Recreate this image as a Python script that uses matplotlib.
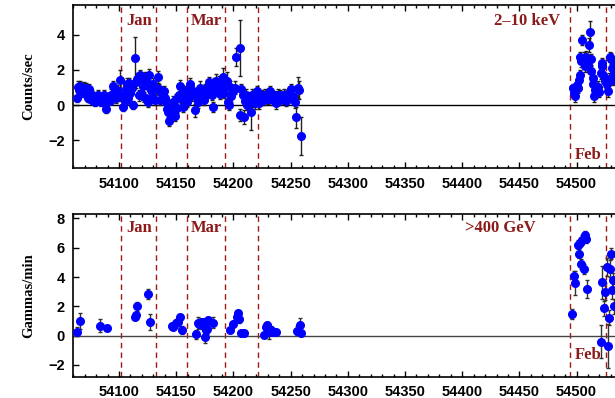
import matplotlib
matplotlib.use("Agg")
import matplotlib.pyplot as plt
from matplotlib.ticker import MultipleLocator

# X-ray rate (2-10 keV), season 2006/07
xr_mjd = [54063, 54064, 54065, 54066, 54067, 54068, 54069, 54070, 54071, 54072,
          54073, 54074, 54075, 54076, 54077, 54078, 54079, 54080, 54081, 54082,
          54083, 54084, 54085, 54086, 54087, 54088, 54089, 54090, 54091, 54092,
          54093, 54094, 54095, 54096, 54097, 54098, 54099, 54100.6, 54101, 54103.5,
          54104, 54105, 54106, 54107, 54108, 54109, 54110, 54111, 54112, 54114.3,
          54115, 54116, 54117, 54118, 54119, 54120, 54121, 54122, 54123, 54124,
          54125, 54126, 54127, 54128, 54129, 54130, 54131, 54132, 54134, 54135,
          54136, 54137, 54138, 54139, 54140, 54141, 54142, 54143, 54144, 54145,
          54146, 54147, 54148, 54149, 54150, 54151, 54152, 54153, 54154, 54155,
          54156, 54157, 54158, 54159, 54160, 54161, 54162, 54163, 54164, 54166,
          54167, 54168, 54169, 54170, 54171, 54172, 54173, 54174, 54175, 54176,
          54177, 54178, 54179, 54180, 54181, 54182, 54183, 54184, 54185, 54186,
          54187, 54188, 54189, 54190, 54191, 54192, 54194, 54195, 54196, 54197,
          54198, 54200, 54201, 54202.6, 54205.5, 54205.8, 54207, 54208, 54209.3, 54210,
          54211, 54212, 54213, 54215, 54216, 54217, 54218, 54219, 54220, 54221,
          54222, 54223, 54224, 54225, 54226, 54227, 54228, 54229, 54230, 54231,
          54232, 54233, 54234, 54235, 54236, 54237, 54238, 54239, 54240, 54241,
          54242, 54243, 54244, 54245, 54246, 54247, 54248, 54249, 54250, 54252,
          54254, 54254.6, 54256.6, 54257, 54258.7,
          # Feb 2008
          54496.9, 54497.5, 54498.4, 54500, 54501, 54502.2, 54502.8, 54503, 54504, 54505.1,
          54506.5, 54507.5, 54508, 54508.6, 54510, 54510.9, 54511.5, 54512.3, 54512.9, 54514,
          54514.8, 54515.2, 54515.8, 54517.5, 54518.5, 54519.5, 54521, 54521.8, 54522.5, 54523.5,
          54524.5, 54525.5, 54526.3, 54527.4, 54528, 54528.9, 54530, 54531.2, 54531.8, 54532.5,
          54533]
xr_rate = [0.40, 1.05, 0.85, 1.10, 0.95, 0.70, 1.00, 0.80, 0.95, 0.55,
           0.40, 0.90, 0.35, 0.60, 0.25, 0.45, 0.15, 0.50, 0.30, 0.55,
           0.40, 0.20, 0.45, 0.35, 0.55, 0.10, -0.20, 0.30, 0.45, 0.25,
           0.60, 0.50, 1.10, 0.70, 0.40, 0.85, 0.65, 1.45, 0.55, -0.10,
           0.55, 0.25, 0.90, 1.20, 0.40, 1.25, 0.70, 0.95, 0.00, 2.70,
           1.30, 1.50, 0.55, 1.70, 0.65, 1.40, 1.10, 0.45, 1.60, 1.30,
           0.20, 1.70, 1.00, 0.85, 0.50, 1.20, 0.30, 0.95, 1.60, 0.90,
           0.30, 0.75, 0.55, 0.80, 0.40, 0.20, -0.20, -0.40, -0.90, -0.55,
           -0.30, 0.20, -0.45, -0.60, 0.35, -0.15, 0.60, 1.10, 0.40, 0.65,
           -0.10, 0.30, 0.80, 0.20, 0.70, 0.45, 1.20, 0.90, 0.55, -0.30,
           0.60, 0.40, 0.15, 0.80, 1.00, 0.50, 0.70, 0.30, 0.90, 0.60,
           0.95, 1.00, 1.30, 0.75, 0.60, -0.10, 1.20, 0.85, 1.40, 1.00,
           1.30, 0.65, 1.15, 0.90, 1.60, 0.70, 1.40, 0.20, 0.00, 1.05,
           0.50, 0.80, 1.00, 2.75, 3.25, -0.55, 0.90, 0.55, -0.70, 0.25,
           0.60, 0.00, 0.45, -0.40, 0.60, 0.20, 0.40, 0.10, 0.55, 0.80,
           0.10, 0.50, 0.35, 0.55, 0.40, 0.30, 0.60, 0.45, 0.35, 0.70,
           0.80, 0.55, 0.40, 0.30, 0.50, 0.10, 0.40, 0.60, 0.30, 0.55,
           0.45, 0.35, 0.60, 0.50, 0.25, 0.55, 0.40, 0.70, 0.90, 0.50,
           0.20, -0.70, 1.00, 0.85, -1.75,
           0.97, 0.70, 0.50, 1.15, 1.00, 1.44, 2.73, 1.70, 2.50, 3.72,
           2.70, 2.20, 2.40, 2.73, 2.30, 3.43, 4.19, 2.60, 1.92, 1.55,
           1.20, 0.50, 0.87, 0.95, 1.05, 0.75, 1.80, 2.40, 2.20, 1.73,
           1.35, 1.30, 1.20, 0.78, 1.50, 2.73, 2.65, 2.10, 1.45, 2.35,
           1.80]
xr_err = [0.20, 0.30, 0.25, 0.25, 0.30, 0.25, 0.30, 0.25, 0.30, 0.25,
          0.20, 0.30, 0.20, 0.25, 0.20, 0.25, 0.20, 0.25, 0.20, 0.30,
          0.20, 0.25, 0.20, 0.25, 0.30, 0.20, 0.25, 0.30, 0.25, 0.20,
          0.30, 0.25, 0.30, 0.25, 0.30, 0.30, 0.30, 0.55, 0.30, 0.25,
          0.30, 0.25, 0.30, 0.35, 0.30, 0.30, 0.30, 0.30, 0.25, 1.20,
          0.30, 0.35, 0.30, 0.30, 0.30, 0.35, 0.30, 0.30, 0.30, 0.30,
          0.30, 0.35, 0.30, 0.30, 0.30, 0.35, 0.30, 0.30, 0.35, 0.30,
          0.30, 0.30, 0.30, 0.30, 0.30, 0.30, 0.30, 0.30, 0.30, 0.30,
          0.30, 0.30, 0.30, 0.30, 0.30, 0.30, 0.30, 0.35, 0.30, 0.30,
          0.30, 0.35, 0.30, 0.30, 0.35, 0.30, 0.35, 0.30, 0.30, 0.35,
          0.30, 0.30, 0.30, 0.30, 0.35, 0.30, 0.30, 0.30, 0.30, 0.30,
          0.30, 0.30, 0.30, 0.30, 0.30, 0.30, 0.35, 0.30, 0.35, 0.30,
          0.35, 0.30, 0.30, 0.30, 0.50, 0.30, 0.50, 0.35, 0.30, 0.30,
          0.30, 0.30, 0.35, 0.50, 1.60, 0.35, 0.30, 0.30, 0.40, 0.30,
          0.30, 0.30, 0.30, 1.00, 0.30, 0.30, 0.30, 0.30, 0.30, 0.30,
          0.35, 0.30, 0.30, 0.30, 0.30, 0.30, 0.30, 0.30, 0.30, 0.30,
          0.30, 0.30, 0.30, 0.30, 0.30, 0.30, 0.30, 0.30, 0.30, 0.30,
          0.30, 0.30, 0.30, 0.30, 0.30, 0.30, 0.30, 0.30, 0.30, 0.35,
          0.35, 0.60, 0.60, 0.50, 1.10,
          0.25, 0.25, 0.30, 0.30, 0.30, 0.30, 0.30, 0.30, 0.35, 0.30,
          0.30, 0.30, 0.30, 0.35, 0.35, 0.40, 0.60, 0.30, 0.30, 0.30,
          0.30, 0.30, 0.30, 0.30, 0.30, 0.30, 0.30, 0.30, 0.30, 0.30,
          0.30, 0.30, 0.30, 0.30, 0.30, 0.30, 0.30, 0.30, 0.30, 0.30,
          0.30]

# VHE gamma rate (>400 GeV)
g_mjd = [54063.2, 54066, 54083.7, 54089.5, 54113.7, 54115, 54115.8, 54125.5, 54126.7,
         54146, 54147.4, 54149.5, 54151.2, 54153, 54154.8,
         54167, 54168.7, 54170, 54171.4, 54172.3, 54173.5, 54174.9, 54175.8, 54177, 54178.1, 54182.5,
         54196.8, 54199.7, 54203, 54204.1, 54205.3, 54206.7, 54208.8,
         54226.8, 54228.3, 54229.7, 54231.2, 54232.6, 54235, 54237,
         54256, 54258, 54259.5,
         54496.3, 54497.5, 54498.3, 54501.6, 54502.2, 54503.3, 54504.2, 54505.1, 54506.3,
         54507.4, 54508.6, 54509.5, 54521.1, 54522.3, 54524.1, 54525.2, 54526.7, 54527.6,
         54528.4, 54529.6, 54530.5, 54531.4, 54532, 54532.9]
g_rate = [0.27, 1.00, 0.68, 0.50, 1.30, 1.42, 2.00, 2.83, 0.96,
          0.68, 0.62, 0.85, 0.96, 1.26, 0.39,
          0.10, 0.85, 0.80, 0.96, 0.73, 0.96, -0.07, 0.39, 0.43, 1.07, 0.89,
          0.39, 0.80, 1.30, 1.58, 1.12, 0.16, 0.20,
          0.05, 0.62, 0.71, 0.27, 0.39, 0.27, 0.27,
          0.34, 0.73, 0.16,
          1.46, 4.04, 3.58, 6.20, 5.60, 6.32, 4.90, 6.55, 4.54,
          6.90, 6.60, 3.20, -0.40, 3.63, 1.87, 3.00, 4.70, -0.68,
          1.23, 4.57, 5.60, 3.10, 3.80, 2.00]
g_err = [0.30, 0.57, 0.45, 0.10, 0.20, 0.20, 0.30, 0.35, 0.55,
         0.15, 0.15, 0.30, 0.30, 0.12, 0.30,
         0.30, 0.40, 0.25, 0.20, 0.25, 0.20, 0.40, 0.30, 0.30, 0.20, 0.40,
         0.15, 0.20, 0.20, 0.15, 0.25, 0.15, 0.15,
         0.15, 0.20, 0.20, 0.50, 0.25, 0.15, 0.15,
         0.30, 0.45, 0.20,
         0.35, 0.40, 0.80, 0.30, 0.30, 0.30, 0.35, 0.30, 0.35,
         0.25, 0.30, 0.60, 1.10, 1.10, 0.50, 0.60, 0.60, 1.50,
         0.50, 0.60, 0.40, 0.60, 0.50, 0.50]

# boundaries of the observing windows
x_lines = [54102, 54132.7, 54159.8, 54193, 54221.7, 54494.6, 54525.6]

line_red = "#a01818"
text_red = "#8b1a1a"
serif = ["Liberation Serif", "DejaVu Serif"]
sans = ["Liberation Sans", "DejaVu Sans"]

fig = plt.figure(figsize=(6.15, 3.98), dpi=100)
# the axes run past the right edge of the figure, as in the original cut
ax1 = fig.add_axes([0.1192, 0.5771, 0.902, 0.4103])
ax2 = fig.add_axes([0.1192, 0.0535, 0.902, 0.4088])


def style_axis(ax, ylim, yticks, ylabel):
    ax.set_xlim(54060, 54545)
    ax.set_ylim(*ylim)
    ax.set_yticks(yticks)
    ax.xaxis.set_major_locator(MultipleLocator(50))
    ax.xaxis.set_minor_locator(MultipleLocator(10))
    ax.tick_params(which="both", direction="in", top=True, right=True, width=1)
    ax.tick_params(which="major", length=4, pad=6)
    ax.tick_params(which="minor", length=2)
    for lab in ax.get_xticklabels() + ax.get_yticklabels():
        lab.set_family(sans)
        lab.set_fontweight("bold")
        lab.set_fontsize(10.5)
    ax.set_ylabel(ylabel, family=serif, fontweight="bold", fontsize=10.5)
    ax.yaxis.set_label_coords(-0.069, 0.5)
    for sp in ax.spines.values():
        sp.set_linewidth(1.2)
    for x in x_lines:
        ax.axvline(x, color=line_red, lw=1, dashes=(4, 3), zorder=1)


style_axis(ax1, (-3.6, 5.7), [-2, 0, 2, 4], "Counts/sec")
style_axis(ax2, (-2.8, 8.3), [-2, 0, 2, 4, 6, 8], "Gammas/min")

ax1.axhline(0, color="black", lw=1, zorder=2)
ax2.axhline(0, color="#444444", lw=1, zorder=2)

ax1.errorbar(xr_mjd, xr_rate, yerr=xr_err, fmt="o", color="#0000ff", ms=5.5,
             ecolor="#222222", elinewidth=1, capsize=1.6, capthick=1, zorder=3)
ax2.errorbar(g_mjd, g_rate, yerr=g_err, fmt="o", color="#0000ff", ms=5.5,
             ecolor="#333333", elinewidth=1, capsize=1.6, capthick=1, zorder=3)

for ax, ytop in [(ax1, 4.8), (ax2, 7.35)]:
    ax.text(54117.5, ytop, "Jan", color=text_red, family=serif, fontweight="bold",
            fontsize=12, ha="center", va="center")
    ax.text(54176.5, ytop, "Mar", color=text_red, family=serif, fontweight="bold",
            fontsize=12, ha="center", va="center")

ax1.text(54457, 4.8, "2\u201310 keV", color=text_red, family=serif, fontweight="bold",
         fontsize=12, ha="center", va="center")
ax2.text(54433, 7.35, ">400 GeV", color=text_red, family=serif, fontweight="bold",
         fontsize=12, ha="center", va="center")
ax1.text(54510, -2.85, "Feb", color=text_red, family=serif, fontweight="bold",
         fontsize=12, ha="center", va="center")
ax2.text(54510, -1.35, "Feb", color=text_red, family=serif, fontweight="bold",
         fontsize=12, ha="center", va="center")

fig.savefig("out.png", dpi=100)
